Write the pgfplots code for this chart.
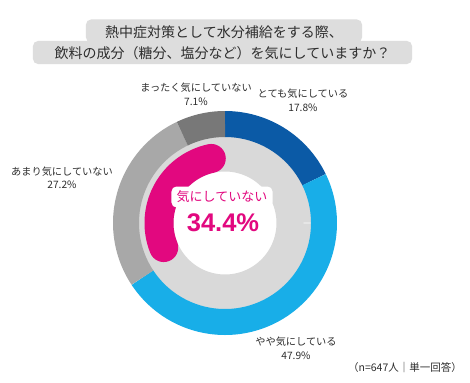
\documentclass[border=0pt]{standalone}
\usepackage{pgfplots}
\pgfplotsset{compat=1.18}
\usepackage{fontspec}
\setmainfont{Noto Sans CJK JP}
\newfontfamily\numfont{Liberation Sans}
\definecolor{cdblue}{HTML}{0B5AA6}
\definecolor{clblue}{HTML}{18AEE8}
\definecolor{cgray}{HTML}{A8A8A8}
\definecolor{cdgray}{HTML}{787878}
\definecolor{clgray}{HTML}{D9D9D9}
\definecolor{cmag}{HTML}{E2087F}
\definecolor{ctitle}{HTML}{DDDDDD}
\definecolor{ctext}{HTML}{2E2E2E}
\begin{document}
\begin{tikzpicture}
\fill[white] (0,0) rectangle (470bp,383bp);
\begin{axis}[at={(0,0)}, anchor=south west, scale only axis,
  width=470bp, height=383bp, xmin=0, xmax=470, ymin=0, ymax=383,
  y dir=reverse, hide axis, clip=false]
% inner light gray band
\addplot[domain=0:360, samples=120, line width=35bp, draw=clgray] ({225+69*cos(x)},{223-69*sin(x)});
% outer ring: 17.8, 47.9, 27.2, 7.1 (clockwise from top)
\addplot[domain={90-3.6*17.8}:90, samples=60, line width=26bp, draw=cdblue] ({225+99*cos(x)},{223-99*sin(x)});
\addplot[domain={90-3.6*(17.8+47.9)}:{90-3.6*17.8}, samples=120, line width=26bp, draw=clblue] ({225+99*cos(x)},{223-99*sin(x)});
\addplot[domain={90-3.6*(17.8+47.9+27.2)}:{90-3.6*(17.8+47.9)}, samples=80, line width=26bp, draw=cgray] ({225+99*cos(x)},{223-99*sin(x)});
\addplot[domain={90-3.6*(17.8+47.9+27.2+7.1)}:{90-3.6*(17.8+47.9+27.2)}, samples=30, line width=26bp, draw=cdgray] ({225+99*cos(x)},{223-99*sin(x)});
% inner magenta arc: 34.4
\addplot[domain=102:{90+3.6*34.4-12}, samples=80, line width=29bp, line cap=round, draw=cmag] ({225+66*cos(x)},{223-66*sin(x)});
% title
\node[fill=ctitle, rounded corners=5bp, minimum width=379bp, minimum height=23bp, inner sep=0pt] at (axis cs:222.5,52.5) {};
\node[fill=ctitle, rounded corners=5bp, minimum width=276bp, minimum height=23bp, inner sep=0pt] at (axis cs:224,31) {};
\node[text=ctext, inner sep=0pt, font=\fontsize{14bp}{16bp}\selectfont] at (axis cs:224,32) {熱中症対策として水分補給をする際、};
\node[text=ctext, inner sep=0pt, font=\fontsize{14bp}{16bp}\selectfont] at (axis cs:222.5,53) {飲料の成分（糖分、塩分など）を気にしていますか？};
% labels
\node[text=ctext, inner sep=0pt, font=\fontsize{10.2bp}{12bp}\selectfont] at (axis cs:196,88) {まったく気にしていない};
\node[text=ctext, inner sep=0pt, font=\fontsize{10.2bp}{12bp}\selectfont] at (axis cs:196,102) {7.1\%};
\node[text=ctext, inner sep=0pt, font=\fontsize{10.2bp}{12bp}\selectfont] at (axis cs:303,94) {とても気にしている};
\node[text=ctext, inner sep=0pt, font=\fontsize{10.2bp}{12bp}\selectfont] at (axis cs:303,108) {17.8\%};
\node[text=ctext, inner sep=0pt, font=\fontsize{10.2bp}{12bp}\selectfont] at (axis cs:62,172) {あまり気にしていない};
\node[text=ctext, inner sep=0pt, font=\fontsize{10.2bp}{12bp}\selectfont] at (axis cs:62,185) {27.2\%};
\node[text=ctext, inner sep=0pt, font=\fontsize{10.2bp}{12bp}\selectfont] at (axis cs:296,342) {やや気にしている};
\node[text=ctext, inner sep=0pt, font=\fontsize{10.2bp}{12bp}\selectfont] at (axis cs:296,356) {47.9\%};
\node[text=ctext, inner sep=0pt, font=\fontsize{10.5bp}{12bp}\selectfont] at (axis cs:405,368) {（n=647人｜単一回答）};
% center
\node[fill=white, rounded corners=5bp, minimum width=101bp, minimum height=21bp, inner sep=0pt, text=cmag, font=\fontsize{13bp}{15bp}\selectfont] at (axis cs:222,197) {気にしていない};
\node[text=cmag, inner sep=0pt, font=\numfont\bfseries\fontsize{25.5bp}{28bp}\selectfont] at (axis cs:223,223) {34.4\%};
\end{axis}
\end{tikzpicture}
\end{document}
